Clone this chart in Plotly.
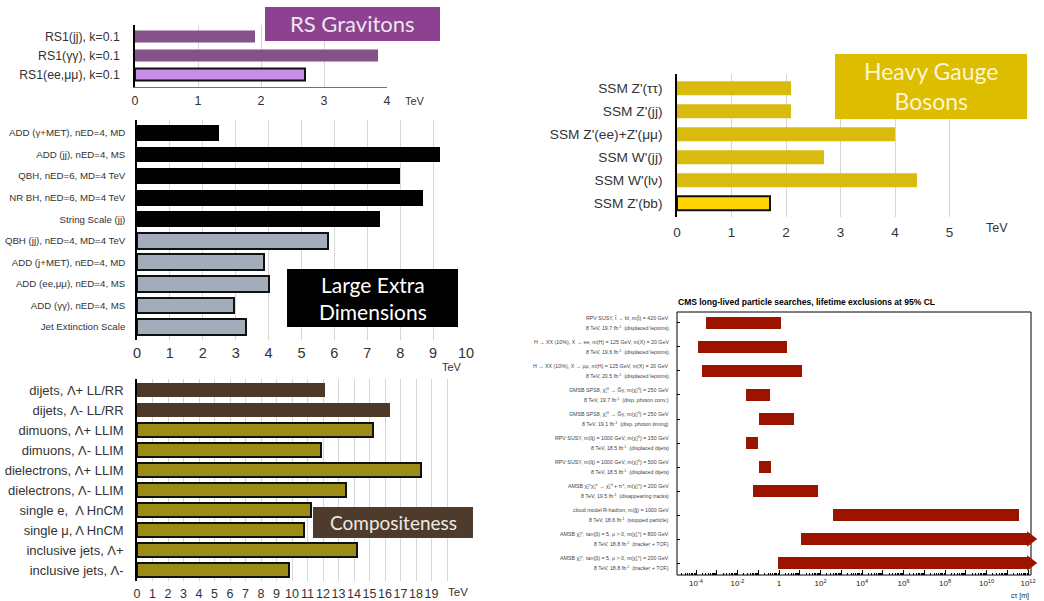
import plotly.graph_objects as go

W, H = 1044, 601

# ---------------- data ----------------
# RS gravitons (TeV)
rs_labels = ["RS1(jj), k=0.1", "RS1(γγ), k=0.1", "RS1(ee,μμ), k=0.1"]
rs_limits = [1.9, 3.85, 2.7]
rs_colors = ["#845189", "#845189", "#C78FE6"]
rs_outline = [0, 0, 2]

# Large extra dimensions (TeV)
led_labels = ["ADD (γ+MET), nED=4, MD", "ADD (jj), nED=4, MS", "QBH, nED=6, MD=4 TeV",
              "NR BH, nED=6, MD=4 TeV", "String Scale (jj)", "QBH (jj), nED=4, MD=4 TeV",
              "ADD (j+MET), nED=4, MD", "ADD (ee,μμ), nED=4, MS", "ADD (γγ), nED=4, MS",
              "Jet Extinction Scale"]
led_limits = [2.5, 9.2, 8.0, 8.7, 7.4, 5.8, 3.85, 4.0, 2.95, 3.3]
led_colors = ["#000000"] * 5 + ["#A3ACB9"] * 5
led_outline = [0] * 5 + [2] * 5

# Compositeness (TeV)
ci_labels = ["dijets, Λ+ LL/RR", "dijets, Λ- LL/RR", "dimuons, Λ+ LLIM", "dimuons, Λ- LLIM",
             "dielectrons, Λ+ LLIM", "dielectrons, Λ- LLIM", "single e,  Λ HnCM",
             "single μ, Λ HnCM", "inclusive jets, Λ+", "inclusive jets, Λ-"]
ci_limits = [12.1, 16.3, 15.2, 11.9, 18.3, 13.5, 11.2, 10.8, 14.2, 9.8]
ci_colors = ["#4B3829"] * 2 + ["#9B8C16"] * 8
ci_outline = [0] * 2 + [2] * 8

# Heavy gauge bosons (TeV)
hgb_labels = ["SSM Z'(ττ)", "SSM Z'(jj)", "SSM Z'(ee)+Z'(μμ)", "SSM W'(jj)", "SSM W'(lν)", "SSM Z'(bb)"]
hgb_limits = [2.1, 2.1, 4.0, 2.7, 4.4, 1.7]
hgb_colors = ["#D8BB0E"] * 5 + ["#FFD400"]
hgb_outline = [0] * 5 + [2]

# CMS long-lived particle searches: excluded c·tau ranges [m]; None = open-ended
ll_process = [
    "RPV SUSY, t̃ → bl, m(t̃) = 420 GeV",
    "H → XX (10%), X → ee, m(H) = 125 GeV, m(X) = 20 GeV",
    "H → XX (10%), X → μμ, m(H) = 125 GeV, m(X) = 20 GeV",
    "GMSB SPS8, χ̃₁⁰ → G̃γ, m(χ̃₁⁰) = 250 GeV",
    "GMSB SPS8, χ̃₁⁰ → G̃γ, m(χ̃₁⁰) = 250 GeV",
    "RPV SUSY, m(q̃) = 1000 GeV, m(χ̃₁⁰) = 150 GeV",
    "RPV SUSY, m(q̃) = 1000 GeV, m(χ̃₁⁰) = 500 GeV",
    "AMSB χ̃₁<sup>±</sup>χ̃₁<sup>±</sup> → χ̃₁⁰ + π<sup>±</sup>, m(χ̃₁<sup>±</sup>) = 200 GeV",
    "cloud model R-hadron, m(g̃) = 1000 GeV",
    "AMSB χ̃₁<sup>±</sup>, tan(β) = 5, μ > 0, m(χ̃₁<sup>±</sup>) = 800 GeV",
    "AMSB χ̃₁<sup>±</sup>, tan(β) = 5, μ > 0, m(χ̃₁<sup>±</sup>) = 200 GeV",
]
ll_dataset = [
    "8 TeV, 19.7 fb<sup>-1</sup>  (displaced leptons)",
    "8 TeV, 19.6 fb<sup>-1</sup>  (displaced leptons)",
    "8 TeV, 20.5 fb<sup>-1</sup>  (displaced leptons)",
    "8 TeV, 19.7 fb<sup>-1</sup>  (disp. photon conv.)",
    "8 TeV, 19.1 fb<sup>-1</sup>  (disp. photon timing)",
    "8 TeV, 18.5 fb<sup>-1</sup>  (displaced dijets)",
    "8 TeV, 18.5 fb<sup>-1</sup>  (displaced dijets)",
    "8 TeV, 19.5 fb<sup>-1</sup>  (disappearing tracks)",
    "8 TeV, 18.6 fb<sup>-1</sup>  (stopped particle)",
    "8 TeV, 18.8 fb<sup>-1</sup>  (tracker + TOF)",
    "8 TeV, 18.8 fb<sup>-1</sup>  (tracker + TOF)",
]
ll_lower = [3.0e-4, 1.26e-4, 2.0e-4, 2.6e-2, 1.1e-1, 2.6e-2, 1.1e-1, 5.6e-2, 3.9e2, 11.5, 0.93]
ll_upper = [1.26, 2.45, 12.6, 0.37, 5.2, 0.098, 0.41, 76.0, 3.7e11, None, None]
ll_decades = list(range(-4, 13))

# ---------------- helpers ----------------
FONT = "Liberation Sans, Arial, sans-serif"
BOXFONT = "Lato, Open Sans, sans-serif"


def xdom(left, right):
    return [left / W, right / W]


def ydom(top, bottom):
    return [1 - bottom / H, 1 - top / H]


def px(x):
    return x / W


def py(y):
    return 1 - y / H


fig = go.Figure()


def add_bars(limits, colors, outline, width, n):
    xa = "x" if n == 1 else f"x{n}"
    ya = "y" if n == 1 else f"y{n}"
    fig.add_trace(go.Bar(
        x=limits, y=list(range(len(limits))), orientation="h", width=width,
        marker=dict(color=colors, line=dict(color="#111111", width=outline)),
        xaxis=xa, yaxis=ya, showlegend=False, hoverinfo="x",
    ))


add_bars(rs_limits, rs_colors, rs_outline, 0.63, 1)
add_bars(led_limits, led_colors, led_outline, 0.73, 2)
add_bars(ci_limits, ci_colors, ci_outline, 0.72, 3)
add_bars(hgb_limits, hgb_colors, hgb_outline, 0.63, 4)

# long-lived panel: axis geometry (log10 units)
LL_LEFT, LL_RIGHT = -4.916, 12.771
FRAME_END = 10 ** 12.12          # open-ended limits run to the frame edge
ll_end = [u if u is not None else FRAME_END for u in ll_upper]
ll_rows = list(range(len(ll_lower)))
fig.add_trace(go.Bar(
    base=ll_lower, x=[e - l for e, l in zip(ll_end, ll_lower)], y=ll_rows,
    orientation="h", width=0.54, marker=dict(color="#9A1400", line=dict(width=0)),
    xaxis="x5", yaxis="y5", showlegend=False, hoverinfo="skip",
))
open_rows = [r for r, u in zip(ll_rows, ll_upper) if u is None]
fig.add_trace(go.Scatter(
    x=[FRAME_END] * len(open_rows), y=open_rows, mode="markers", cliponaxis=False,
    marker=dict(symbol="triangle-right", size=13.5, color="#9A1400", line=dict(width=0)),
    xaxis="x5", yaxis="y5", showlegend=False, hoverinfo="skip",
))

tick_font = dict(family=FONT, color="#333333")
grid = "#D6D6D6"


def cat_axis(labels, rng, dom, size, standoff, linecolor="#000000"):
    return dict(domain=dom, range=rng, tickmode="array", tickvals=list(range(len(labels))),
                ticktext=labels, ticks="", showgrid=False, zeroline=False,
                showline=True, linecolor=linecolor, linewidth=1.5, automargin=False,
                tickfont=dict(tick_font, size=size), ticklabelstandoff=standoff, fixedrange=True)


def val_axis(rng, dom, tickvals, ticktext, size, standoff, showline=False, linecolor="#000"):
    return dict(domain=dom, range=rng, tickmode="array", tickvals=tickvals, ticktext=ticktext,
                ticks="", showgrid=True, gridcolor=grid, gridwidth=1, zeroline=False,
                showline=showline, linecolor=linecolor, linewidth=1, automargin=False,
                tickangle=0,
                tickfont=dict(tick_font, size=size), ticklabelstandoff=standoff, fixedrange=True)


layout = dict(
    width=W, height=H, margin=dict(l=0, r=0, t=0, b=0, autoexpand=False),
    paper_bgcolor="white", plot_bgcolor="rgba(0,0,0,0)", bargap=0,
)

# RS gravitons
layout["yaxis"] = cat_axis(rs_labels, [2.65, -0.65], ydom(24.6, 87.4), 12.3, 11, "#000")
layout["yaxis"]["anchor"] = "x"
layout["xaxis"] = val_axis([0, 4], xdom(135, 387), [0, 1, 2, 3, 4], ["0", "1", "2", "3", "4"],
                           12.5, 2, showline=True, linecolor="#C0504D")
layout["xaxis"]["anchor"] = "y"

# Large extra dimensions
layout["yaxis2"] = cat_axis(led_labels, [9.6, -0.6], ydom(120, 340), 9.7, 8)
layout["yaxis2"]["anchor"] = "x2"
layout["xaxis2"] = val_axis([0, 10], xdom(137, 466), list(range(11)), [str(i) for i in range(11)],
                            14.5, 2)
layout["xaxis2"]["anchor"] = "y2"

# Compositeness
layout["yaxis3"] = cat_axis(ci_labels, [9.55, -0.55], ydom(379, 581), 13, 9)
layout["yaxis3"]["anchor"] = "x3"
layout["xaxis3"] = val_axis([0, 21], xdom(137, 462.5), list(range(22)),
                            [str(i) for i in range(20)] + ["", ""], 12.5, 3)
layout["xaxis3"]["anchor"] = "y3"

# Heavy gauge bosons
layout["yaxis4"] = cat_axis(hgb_labels, [5.6, -0.6], ydom(74.2, 216.8), 13.7, 10)
layout["yaxis4"]["anchor"] = "x4"
layout["xaxis4"] = val_axis([0, 5.5], xdom(677, 976.75), [0, 1, 2, 3, 4, 5],
                            ["0", "1", "2", "3", "4", "5"], 13.5, 6)
layout["xaxis4"]["anchor"] = "y4"

# Long-lived particle lifetimes
major_vals = [10.0 ** k for k in ll_decades]
major_text = [("1" if k == 0 else f"10<sup>{k}</sup>") if k % 2 == 0 else "" for k in ll_decades]
minor_vals = [m * 10.0 ** k for k in range(-5, 13) for m in range(2, 10)
              if 10 ** LL_LEFT < m * 10.0 ** k < 10 ** 12.1]
layout["xaxis5"] = dict(
    type="log", domain=xdom(677, 1044), range=[LL_LEFT, LL_RIGHT], anchor="y5",
    tickmode="array", tickvals=major_vals, ticktext=major_text, tickangle=0,
    ticks="inside", ticklen=5, tickcolor="#000", tickwidth=1, automargin=False,
    minor=dict(tickmode="array", tickvals=minor_vals, ticks="inside", ticklen=2.5,
               tickcolor="#000", tickwidth=1, showgrid=False),
    showgrid=False, zeroline=False, showline=False,
    tickfont=dict(family=FONT, size=8, color="#222"), ticklabelstandoff=2, fixedrange=True,
)
layout["yaxis5"] = dict(
    domain=ydom(312, 575), range=[10.5, -0.458], anchor="x5", automargin=False,
    tickmode="array", tickvals=ll_rows, ticks="inside", ticklen=3, tickcolor="#000",
    showticklabels=False, showgrid=False, zeroline=False, showline=False, fixedrange=True,
)

fig.update_layout(**layout)

shapes = []
annotations = []

# frame of the long-lived panel
shapes.append(dict(type="rect", xref="paper", yref="paper", x0=px(677), x1=px(1031),
                   y0=py(575), y1=py(312), line=dict(color="#000", width=1), layer="below"))

# category title boxes
boxes = [
    ("RS Gravitons", 265, 440, 7, 41, "#8C4290", "#EDE6EE", 22),
    ("Large Extra<br>Dimensions", 287, 458, 269, 327, "#000000", "#FFFFFF", 21),
    ("Compositeness", 313, 473, 507, 538, "#4E3B2B", "#EFEAE4", 19),
    ("Heavy Gauge<br>Bosons", 835, 1027, 54, 119, "#DCBD00", "#FFF6D0", 23),
]
for text, x0, x1, y0, y1, fill, tc, size in boxes:
    shapes.append(dict(type="rect", xref="paper", yref="paper", x0=px(x0), x1=px(x1),
                       y0=py(y1), y1=py(y0), fillcolor=fill, line=dict(width=0), layer="above"))
    annotations.append(dict(text=text, xref="paper", yref="paper", x=px((x0 + x1) / 2),
                            y=py((y0 + y1) / 2), xanchor="center", yanchor="middle",
                            showarrow=False, font=dict(family=BOXFONT, size=size, color=tc)))

# unit labels
for x, y, size in [(415, 101, 11), (452, 367, 11), (458, 592, 11.5), (997, 228, 12.5)]:
    annotations.append(dict(text="TeV", xref="paper", yref="paper", x=px(x), y=py(y),
                            xanchor="center", yanchor="middle", showarrow=False,
                            font=dict(family=FONT, size=size, color="#333333")))

annotations.append(dict(text="cτ [m]", xref="paper", yref="paper", x=px(1031), y=py(596),
                        xanchor="right", yanchor="middle", showarrow=False,
                        font=dict(family=FONT, size=7, color="#222")))

annotations.append(dict(text="<b>CMS long-lived particle searches, lifetime exclusions at 95% CL</b>",
                        xref="paper", yref="paper", x=px(676), y=py(302), xanchor="left",
                        yanchor="middle", showarrow=False,
                        font=dict(family=FONT, size=8.5, color="#000")))

# two-line row labels of the long-lived panel
for r, (proc, ds) in enumerate(zip(ll_process, ll_dataset)):
    for text, shift in [(proc, 5), (ds, -5)]:
        annotations.append(dict(text=text, xref="paper", yref="y5", x=px(671), y=r,
                                xanchor="right", yanchor="middle", yshift=shift,
                                showarrow=False,
                                font=dict(family=FONT, size=5.3, color="#444")))

fig.update_layout(shapes=shapes, annotations=annotations)

fig.write_html("out.html")
